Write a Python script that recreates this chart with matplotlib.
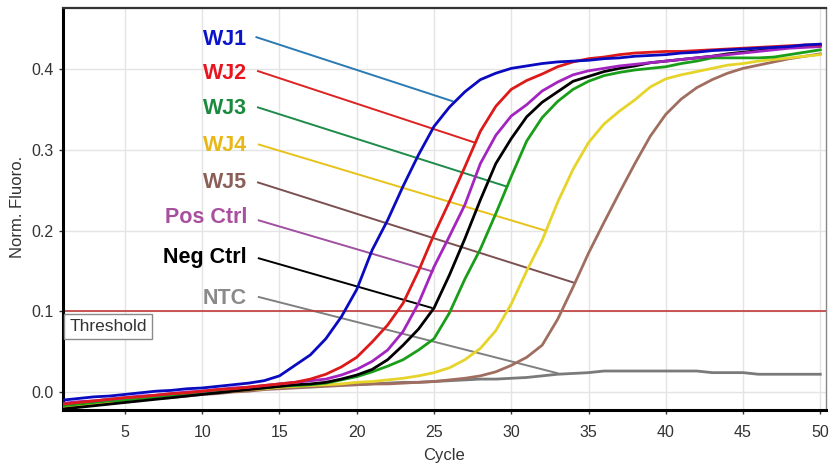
import matplotlib
matplotlib.use("Agg")
import matplotlib.pyplot as plt
from matplotlib import font_manager as fm

cycles = list(range(1, 51))

wj1 = [-0.010, -0.008, -0.006, -0.005, -0.003, -0.001, 0.001, 0.002, 0.004, 0.005,
       0.007, 0.009, 0.011, 0.014, 0.020, 0.033, 0.046, 0.066, 0.093, 0.127,
       0.176, 0.213, 0.255, 0.294, 0.329, 0.353, 0.372, 0.387, 0.395, 0.401,
       0.404, 0.407, 0.409, 0.410, 0.411, 0.413, 0.414, 0.416, 0.417, 0.418,
       0.420, 0.421, 0.423, 0.424, 0.425, 0.426, 0.427, 0.428, 0.430, 0.431]
wj2 = [-0.015, -0.013, -0.011, -0.009, -0.007, -0.006, -0.004, -0.002, -0.001, 0.001,
       0.003, 0.004, 0.006, 0.008, 0.010, 0.012, 0.016, 0.022, 0.031, 0.043,
       0.062, 0.083, 0.110, 0.150, 0.195, 0.236, 0.279, 0.323, 0.354, 0.375,
       0.386, 0.394, 0.403, 0.409, 0.413, 0.415, 0.418, 0.420, 0.421, 0.422,
       0.422, 0.423, 0.424, 0.425, 0.426, 0.427, 0.428, 0.429, 0.430, 0.430]
pos_ctrl = [-0.014, -0.012, -0.011, -0.009, -0.007, -0.005, -0.004, -0.002, 0.000, 0.001,
            0.003, 0.005, 0.006, 0.008, 0.010, 0.012, 0.014, 0.016, 0.021, 0.028,
            0.038, 0.052, 0.075, 0.110, 0.155, 0.193, 0.232, 0.283, 0.318, 0.342,
            0.356, 0.373, 0.384, 0.393, 0.398, 0.401, 0.404, 0.406, 0.408, 0.410,
            0.412, 0.414, 0.416, 0.418, 0.420, 0.422, 0.424, 0.426, 0.427, 0.428]
neg_ctrl = [-0.021, -0.019, -0.017, -0.015, -0.013, -0.011, -0.009, -0.007, -0.005, -0.003,
            -0.001, 0.001, 0.003, 0.005, 0.007, 0.009, 0.010, 0.012, 0.016, 0.021,
            0.028, 0.040, 0.058, 0.078, 0.104, 0.145, 0.190, 0.238, 0.283, 0.314,
            0.341, 0.359, 0.372, 0.385, 0.391, 0.397, 0.401, 0.404, 0.408, 0.410,
            0.412, 0.414, 0.416, 0.419, 0.421, 0.423, 0.425, 0.427, 0.428, 0.430]
wj3 = [-0.017, -0.015, -0.013, -0.011, -0.010, -0.008, -0.006, -0.004, -0.003, -0.001,
       0.001, 0.002, 0.004, 0.005, 0.007, 0.008, 0.009, 0.011, 0.015, 0.019,
       0.025, 0.032, 0.040, 0.052, 0.066, 0.098, 0.140, 0.177, 0.221, 0.267,
       0.311, 0.340, 0.360, 0.375, 0.385, 0.392, 0.396, 0.399, 0.401, 0.403,
       0.407, 0.410, 0.414, 0.414, 0.414, 0.414, 0.415, 0.418, 0.421, 0.424]
wj4 = [-0.019, -0.017, -0.015, -0.013, -0.011, -0.009, -0.008, -0.006, -0.004, -0.002,
       0.000, 0.001, 0.003, 0.004, 0.006, 0.007, 0.008, 0.009, 0.010, 0.012,
       0.013, 0.015, 0.017, 0.020, 0.024, 0.030, 0.040, 0.054, 0.076, 0.109,
       0.150, 0.188, 0.235, 0.276, 0.309, 0.332, 0.348, 0.362, 0.378, 0.388,
       0.393, 0.397, 0.401, 0.405, 0.407, 0.410, 0.412, 0.414, 0.416, 0.418]
wj5 = [-0.020, -0.018, -0.016, -0.014, -0.012, -0.010, -0.008, -0.007, -0.005, -0.003,
       -0.002, 0.000, 0.001, 0.003, 0.004, 0.005, 0.006, 0.007, 0.008, 0.009,
       0.010, 0.010, 0.011, 0.012, 0.013, 0.015, 0.017, 0.020, 0.025, 0.033,
       0.043, 0.058, 0.090, 0.130, 0.172, 0.210, 0.247, 0.283, 0.317, 0.344,
       0.363, 0.377, 0.387, 0.395, 0.401, 0.405, 0.409, 0.413, 0.416, 0.419]
ntc = [-0.018, -0.016, -0.014, -0.012, -0.011, -0.009, -0.007, -0.005, -0.004, -0.002,
       0.000, 0.001, 0.003, 0.004, 0.005, 0.006, 0.007, 0.008, 0.009, 0.009,
       0.010, 0.011, 0.012, 0.012, 0.013, 0.014, 0.015, 0.016, 0.016, 0.017,
       0.018, 0.020, 0.022, 0.023, 0.024, 0.026, 0.026, 0.026, 0.026, 0.026,
       0.026, 0.026, 0.024, 0.024, 0.024, 0.022, 0.022, 0.022, 0.022, 0.022]

threshold = 0.1
labels = ["WJ1", "WJ2", "WJ3", "WJ4", "WJ5", "Pos Ctrl", "Neg Ctrl", "NTC"]
label_y = [0.430, 0.388, 0.344, 0.299, 0.253, 0.209, 0.160, 0.109]
leader_start = [(13.45, 0.440), (13.55, 0.398), (13.55, 0.353), (13.6, 0.307),
                (13.55, 0.260), (13.6, 0.213), (13.6, 0.166), (13.6, 0.118)]
leader_end = [(26.25, 0.360), (27.65, 0.309), (29.8, 0.254), (32.2, 0.200),
              (34.13, 0.135), (24.96, 0.149), (24.9, 0.104), (33.05, 0.023)]
xticks = [5, 10, 15, 20, 25, 30, 35, 40, 45, 50]
yticks = [0.0, 0.1, 0.2, 0.3, 0.4]

series = {"WJ1": wj1, "WJ2": wj2, "WJ3": wj3, "WJ4": wj4, "WJ5": wj5,
          "Pos Ctrl": pos_ctrl, "Neg Ctrl": neg_ctrl, "NTC": ntc}
curve_colors = {"WJ1": "#0a0ac0", "WJ2": "#dd1a1a", "WJ3": "#1a9e1a", "WJ4": "#e6d42a",
                "WJ5": "#a06e60", "Pos Ctrl": "#a424c0", "Neg Ctrl": "#000000", "NTC": "#7a7a7a"}
text_colors = {"WJ1": "#0a14c8", "WJ2": "#e8141e", "WJ3": "#1a8a3e", "WJ4": "#e8b818",
               "WJ5": "#8b5e58", "Pos Ctrl": "#a8509e", "Neg Ctrl": "#000000", "NTC": "#8a8a8a"}
leader_colors = {"WJ1": "#2a7ab4", "WJ2": "#dd2222", "WJ3": "#1e8b4b", "WJ4": "#e8c21a",
                 "WJ5": "#7b5050", "Pos Ctrl": "#a050a0", "Neg Ctrl": "#000000", "NTC": "#808080"}
draw_order = ["NTC", "WJ5", "WJ4", "WJ3", "Neg Ctrl", "Pos Ctrl", "WJ2", "WJ1"]

def pick_font(names):
    for n in names:
        try:
            fm.findfont(fm.FontProperties(family=n), fallback_to_default=False)
            return n
        except Exception:
            continue
    return "DejaVu Sans"

regular = pick_font(["Liberation Sans", "Arial"])
plt.rcParams["font.family"] = [regular, "DejaVu Sans"]

fig = plt.figure(figsize=(8.33, 4.65), dpi=100)
W, H = 833, 465
ax = fig.add_axes([63 / W, 1 - 410 / H, (826 - 63) / W, (410 - 8) / H])
ax.set_xlim(0.99, 50.37)
ax.set_ylim(-0.0223, 0.4758)

ax.set_xticks(xticks)
ax.set_yticks(yticks)
ax.set_yticklabels([f"{v:.1f}" for v in yticks])
ax.grid(True, color="#e4e4e4", lw=1.0, zorder=0)
ax.tick_params(axis="both", labelsize=11.5, colors="#333333", length=3, width=1)
ax.tick_params(axis="x", pad=8)
ax.tick_params(axis="y", pad=4)

for side in ["left", "bottom"]:
    ax.spines[side].set_linewidth(2.2)
    ax.spines[side].set_color("black")
ax.spines["top"].set_linewidth(1.6)
ax.spines["top"].set_color("#333333")
ax.spines["right"].set_linewidth(1.0)
ax.spines["right"].set_color("#888888")

for name, (x0, y0), (x1, y1) in zip(labels, leader_start, leader_end):
    ax.plot([x0, x1], [y0, y1], color=leader_colors[name], lw=1.4, zorder=2,
            solid_capstyle="butt")

ax.axhline(threshold, color="#c03a3a", lw=1.2, zorder=2.5)

for name in draw_order:
    ax.plot(cycles, series[name], color=curve_colors[name], lw=2.0, zorder=3,
            solid_joinstyle="round")

for name, y in zip(labels, label_y):
    ax.text(12.9, y, name, color=text_colors[name], fontsize=15.5, fontweight="bold",
            ha="right", va="baseline", zorder=5)

ax.text(1.4, 0.0815, "Threshold", fontsize=12.5, color="#333333", ha="left",
        va="center", zorder=6,
        bbox=dict(boxstyle="square,pad=0.28", fc="white", ec="#8a8a8a", lw=1.0))

ax.set_xlabel("Cycle", fontsize=12, color="#333333")
ax.xaxis.set_label_coords(0.5, -0.094)
ax.set_ylabel("Norm. Fluoro.", fontsize=12, color="#333333")
ax.yaxis.set_label_coords(-0.05, 0.505)

fig.savefig("out.png", dpi=100)
